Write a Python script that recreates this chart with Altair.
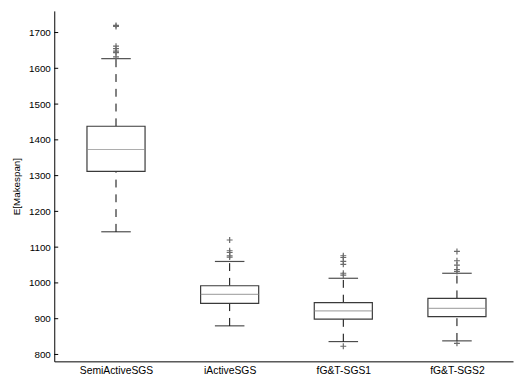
import json
import altair as alt
import pandas as pd

categories = ["SemiActiveSGS", "iActiveSGS", "fG&T-SGS1", "fG&T-SGS2"]
positions = [1, 2, 3, 4]
q1 = [1312, 943, 899, 906]
median = [1373, 968, 922, 929]
q3 = [1438, 992, 945, 957]
whisker_low = [1143, 880, 836, 838]
whisker_high = [1627, 1060, 1013, 1027]

outlier_pos = [1, 1, 1, 1, 1, 1, 1,
               2, 2, 2, 2, 2,
               3, 3, 3, 3, 3, 3, 3,
               4, 4, 4, 4, 4, 4]
outlier_val = [1720, 1717, 1662, 1655, 1648, 1644, 1632,
               1120, 1090, 1085, 1076, 1072,
               1076, 1071, 1060, 1052, 1027, 1022, 823,
               1088, 1062, 1050, 1037, 1032, 831]

y_ticks = [800, 900, 1000, 1100, 1200, 1300, 1400, 1500, 1600, 1700]

stats = pd.DataFrame({
    "pos": positions, "cat": categories, "q1": q1, "med": median,
    "q3": q3, "lo": whisker_low, "hi": whisker_high,
})
outs = pd.DataFrame({"pos": outlier_pos, "val": outlier_val})
ticks = pd.DataFrame({"t": y_ticks})

label_expr = json.dumps(categories) + "[datum.value - 1]"

xscale = alt.Scale(domain=[0.5, 4.45], nice=False, zero=False)
yscale = alt.Scale(domain=[780.7, 1760.5], nice=False, zero=False)

xaxis = alt.Axis(values=positions, labelExpr=label_expr, title=None)
yaxis = alt.Axis(values=y_ticks, format="d", title="E[Makespan]")

def X(field):
    return alt.X(field, type="quantitative", scale=xscale, axis=xaxis)

def Y(field):
    return alt.Y(field, type="quantitative", scale=yscale, axis=yaxis)

base = alt.Chart(stats)

whisk_up = base.mark_rule(color="black", strokeDash=[8, 7], strokeWidth=1).encode(
    x=X("pos"), y=Y("q3"), y2="hi:Q",
)
whisk_dn = base.mark_rule(color="black", strokeDash=[8, 7], strokeWidth=1).encode(
    x=X("pos"), y=Y("lo"), y2="q1:Q",
)
box = base.mark_bar(size=59, fill="white", stroke="#3a3a3a", strokeWidth=1.2).encode(
    x=X("pos"), y=Y("q1"), y2="q3:Q",
)
med = base.mark_tick(orient="horizontal", size=59, thickness=1.2, color="#8a8a8a").encode(
    x=X("pos"), y=Y("med"),
)
cap_hi = base.mark_tick(orient="horizontal", size=30, thickness=1.2, color="black").encode(
    x=X("pos"), y=Y("hi"),
)
cap_lo = base.mark_tick(orient="horizontal", size=30, thickness=1.2, color="black").encode(
    x=X("pos"), y=Y("lo"),
)
pts = alt.Chart(outs).mark_point(
    shape="M -1 0 L 1 0 M 0 -1 L 0 1", size=36, filled=False,
    stroke="#6a6a6a", strokeWidth=1.2, opacity=1,
).encode(x=X("pos"), y=Y("val"))
yt = alt.Chart(ticks).mark_rule(color="black", strokeWidth=1).encode(
    y=Y("t"), x=alt.value(0), x2=alt.value(4),
)

chart = alt.layer(whisk_up, whisk_dn, box, med, cap_hi, cap_lo, pts, yt).properties(
    width=466, height=356,
    autosize=alt.AutoSizeParams(type="none"),
    padding={"left": 47, "top": 0, "right": 1, "bottom": 17},
).configure(
    font="Liberation Sans", view=alt.ViewConfig(stroke=None)
).configure_axis(
    ticks=False, grid=False, domainColor="black", labelColor="black",
    labelOverlap=False, labelFlush=False, titleColor="black",
    titleFontWeight="normal",
).configure_axisX(
    labelFontSize=10.5, labelPadding=4,
).configure_axisY(
    labelFontSize=10, labelPadding=4, titleFontSize=10, titlePadding=7,
)

chart.save("out.html", embed_options={"renderer": "svg", "actions": False})
